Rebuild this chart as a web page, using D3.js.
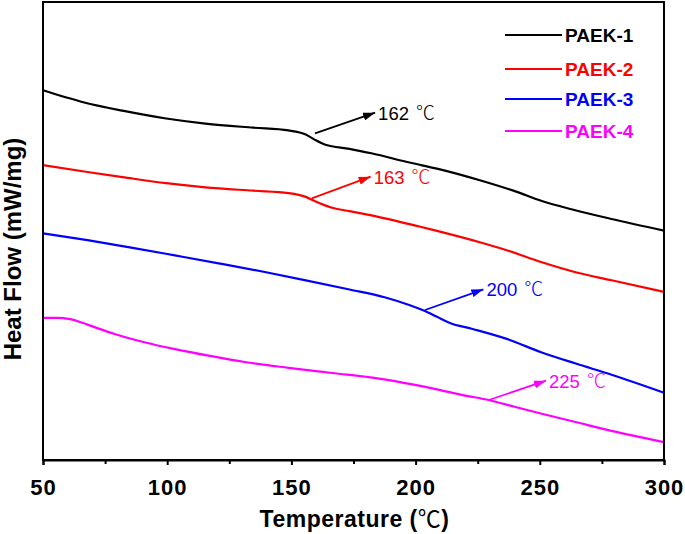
<!DOCTYPE html>
<html>
<head>
<meta charset="utf-8">
<script src="https://cdn.jsdelivr.net/npm/d3@7"></script>
<style>
  html, body { margin: 0; padding: 0; background: #fff; }
  svg { display: block; }
</style>
</head>
<body>
<svg id="chart" width="685" height="534"></svg>
<script>
// ---- data ----
const seriesNames = ["PAEK-1", "PAEK-2", "PAEK-3", "PAEK-4"];
const seriesColors = ["#000000", "#ff0000", "#0000ff", "#ff00ff"];

const tempPAEK1 = [50, 66.2, 82, 99.6, 115.4, 134.7, 148.8, 155.8, 159.3, 163.7, 173.4, 182.2, 198, 208.6, 226.2, 240.2, 250.8, 263.1, 278.9, 300];
const flowPAEK1 = [-0.883, -1.002, -1.087, -1.165, -1.216, -1.257, -1.284, -1.325, -1.376, -1.428, -1.468, -1.513, -1.608, -1.666, -1.785, -1.894, -1.990, -2.075, -2.170, -2.286];

const tempPAEK2 = [50, 67.9, 82, 99.6, 115.4, 134.7, 148.8, 155.8, 159.3, 166.4, 173.4, 182.2, 201.5, 208.6, 226.2, 236.7, 250.8, 264.8, 278.9, 300];
const flowPAEK2 = [-1.632, -1.700, -1.751, -1.812, -1.853, -1.887, -1.911, -1.949, -1.990, -2.058, -2.092, -2.133, -2.245, -2.289, -2.405, -2.483, -2.603, -2.705, -2.783, -2.899];

const tempPAEK3 = [50, 67.9, 85.5, 103.1, 120.7, 138.3, 155.8, 173.4, 187.5, 198, 203.3, 208.6, 213.8, 222.6, 236.7, 250.8, 264.8, 278.9, 300];
const flowPAEK3 = [-2.313, -2.381, -2.456, -2.534, -2.613, -2.695, -2.783, -2.875, -2.953, -3.035, -3.086, -3.148, -3.209, -3.267, -3.369, -3.505, -3.618, -3.727, -3.907];

const tempPAEK4 = [50, 55.6, 60.9, 67.9, 78.5, 90.8, 103.1, 117.2, 131.2, 148.8, 166.4, 184, 199.8, 208.6, 219.1, 229.7, 240.2, 250.8, 264.8, 278.9, 300];
const flowPAEK4 = [-3.158, -3.158, -3.171, -3.226, -3.318, -3.403, -3.471, -3.539, -3.600, -3.658, -3.710, -3.761, -3.829, -3.873, -3.931, -3.982, -4.050, -4.118, -4.203, -4.289, -4.401];

const xTicks = [50, 100, 150, 200, 250, 300];
const xMinorTicks = [75, 125, 175, 225, 275];

// annotation arrows: tail (T, flow) -> head (T, flow), label text
const annoLabels = ["162 ℃", "163 ℃", "200 ℃", "225 ℃"];
const annoTailT = [159.5, 158.2, 203.8, 229.5];
const annoTailF = [-1.313, -1.963, -3.08, -3.98];
const annoHeadT = [183.7, 181.9, 227.3, 252.5];
const annoHeadF = [-1.107, -1.747, -2.873, -3.787];

const xTitleMain = "Temperature (";
const xTitleUnit = "℃";
const xTitleEnd = ")";
const yTitle = "Heat Flow (mW/mg)";

// ---- layout ----
const plot = { left: 43, right: 664, top: 2, bottom: 460 };

const svg = d3.select("#chart");
const x = d3.scaleLinear().domain([50, 300]).range([plot.left, plot.right]);
const y = d3.scaleLinear().domain([-4.58, 0]).range([plot.bottom, plot.top]);

const fontBold = "'Liberation Sans', Arial, 'Noto Sans CJK SC', sans-serif";
const fontCJK = "'Noto Sans CJK SC', 'DejaVu Sans', sans-serif";

// defs: arrowheads
const defs = svg.append("defs");
seriesColors.forEach((c, i) => {
  defs.append("marker")
    .attr("id", "arrow" + i)
    .attr("viewBox", "0 0 12 8")
    .attr("refX", 12).attr("refY", 4)
    .attr("markerWidth", 12).attr("markerHeight", 8)
    .attr("markerUnits", "userSpaceOnUse")
    .attr("orient", "auto")
    .append("path")
    .attr("d", "M0,0 L12,4 L0,8 Z")
    .attr("fill", c);
});

// series lines
const temps = [tempPAEK1, tempPAEK2, tempPAEK3, tempPAEK4];
const flows = [flowPAEK1, flowPAEK2, flowPAEK3, flowPAEK4];
const line = d3.line().x(d => x(d[0])).y(d => y(d[1])).curve(d3.curveMonotoneX);

temps.forEach((t, i) => {
  const pts = t.map((v, j) => [v, flows[i][j]]);
  svg.append("path")
    .datum(pts)
    .attr("d", line)
    .attr("fill", "none")
    .attr("stroke", seriesColors[i])
    .attr("stroke-width", 2.2)
    .attr("stroke-linejoin", "round");
});

// annotations
annoLabels.forEach((lab, i) => {
  svg.append("line")
    .attr("x1", x(annoTailT[i])).attr("y1", y(annoTailF[i]))
    .attr("x2", x(annoHeadT[i])).attr("y2", y(annoHeadF[i]))
    .attr("stroke", seriesColors[i])
    .attr("stroke-width", 1.8)
    .attr("marker-end", "url(#arrow" + i + ")");
  const parts = lab.split(" ");
  const tx = svg.append("text")
    .attr("x", x(annoHeadT[i]) + 3)
    .attr("y", y(annoHeadF[i]) + 7)
    .attr("fill", seriesColors[i])
    .attr("font-family", "'Liberation Sans', Arial, sans-serif")
    .attr("font-size", 18.5);
  tx.append("tspan").text(parts[0]);
  tx.append("tspan")
    .attr("dx", 7)
    .attr("font-family", fontCJK)
    .attr("font-weight", 300)
    .attr("font-size", 19)
    .text(parts[1]);
});

// frame
svg.append("rect")
  .attr("x", plot.left).attr("y", plot.top)
  .attr("width", plot.right - plot.left).attr("height", plot.bottom - plot.top)
  .attr("fill", "none").attr("stroke", "#000").attr("stroke-width", 2);

// bottom axis major
const gx = svg.append("g").attr("transform", `translate(0,${plot.bottom})`)
  .call(d3.axisBottom(x).tickValues(xTicks).tickSize(5).tickPadding(14).tickFormat(d3.format("d")));
gx.select(".domain").attr("stroke-width", 2);
gx.selectAll(".tick line").attr("stroke-width", 2);
gx.selectAll("text")
  .attr("font-family", fontBold)
  .attr("font-weight", "bold")
  .attr("font-size", 22)
  .attr("letter-spacing", "1px")
  .attr("fill", "#000");

// minor ticks
const gxm = svg.append("g").attr("transform", `translate(0,${plot.bottom})`)
  .call(d3.axisBottom(x).tickValues(xMinorTicks).tickSize(4).tickFormat(""));
gxm.select(".domain").remove();
gxm.selectAll(".tick line").attr("stroke-width", 2);

// axis titles
const xt = svg.append("text")
  .attr("x", (plot.left + plot.right) / 2 + 1)
  .attr("y", 527)
  .attr("text-anchor", "middle")
  .attr("font-family", fontBold)
  .attr("font-weight", "bold")
  .attr("font-size", 23)
  .attr("letter-spacing", "0.5px");
xt.append("tspan").text(xTitleMain);
xt.append("tspan").attr("font-family", fontCJK).attr("font-weight", 400).text(xTitleUnit);
xt.append("tspan").text(xTitleEnd);

svg.append("text")
  .attr("transform", `translate(21,${(plot.top + plot.bottom) / 2 + 18}) rotate(-90)`)
  .attr("text-anchor", "middle")
  .attr("font-family", fontBold)
  .attr("font-weight", "bold")
  .attr("font-size", 24)
  .text(yTitle);

// legend
const legY = [35, 69, 99, 131];
seriesNames.forEach((n, i) => {
  svg.append("line")
    .attr("x1", 505).attr("x2", 562)
    .attr("y1", legY[i]).attr("y2", legY[i])
    .attr("stroke", seriesColors[i]).attr("stroke-width", 2.2);
  svg.append("text")
    .attr("x", 565).attr("y", legY[i] + 7)
    .attr("fill", seriesColors[i])
    .attr("font-family", fontBold)
    .attr("font-weight", "bold")
    .attr("font-size", 19)
    .text(n);
});
</script>
</body>
</html>
